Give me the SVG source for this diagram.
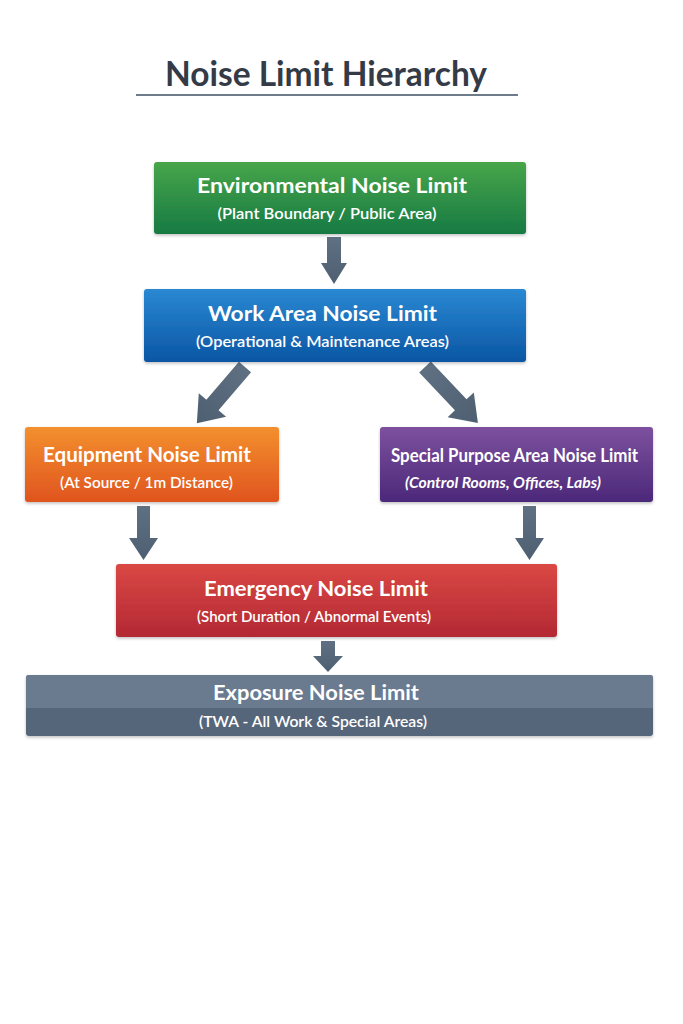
<svg xmlns="http://www.w3.org/2000/svg" width="683" height="1024" viewBox="0 0 683 1024">
<defs>
<linearGradient id="gGreen" x1="0" y1="0" x2="0" y2="1"><stop offset="0" stop-color="#47a549"/><stop offset="1" stop-color="#177a43"/></linearGradient>
<linearGradient id="gBlue" x1="0" y1="0" x2="0" y2="1"><stop offset="0" stop-color="#2a88d2"/><stop offset="1" stop-color="#0a56a4"/></linearGradient>
<linearGradient id="gOrange" x1="0" y1="0" x2="0" y2="1"><stop offset="0" stop-color="#f3902e"/><stop offset="1" stop-color="#e0541e"/></linearGradient>
<linearGradient id="gPurple" x1="0" y1="0" x2="0" y2="1"><stop offset="0" stop-color="#7d519f"/><stop offset="1" stop-color="#4b2879"/></linearGradient>
<linearGradient id="gRed" x1="0" y1="0" x2="0" y2="1"><stop offset="0" stop-color="#da4844"/><stop offset="1" stop-color="#b32834"/></linearGradient>
<linearGradient id="gArrow" x1="0" y1="0" x2="0" y2="1"><stop offset="0" stop-color="#5f7083"/><stop offset="1" stop-color="#4e5f72"/></linearGradient>
<filter id="sh" x="-5%" y="-10%" width="110%" height="130%"><feDropShadow dx="0" dy="1.5" stdDeviation="1.5" flood-color="#000" flood-opacity="0.25"/></filter>
</defs>
<style>
.t{font-family:Lato,"Open Sans","Liberation Sans",sans-serif;font-weight:700;fill:#fff;text-anchor:middle;font-size:21px}
.s{font-family:Lato,"Open Sans","Liberation Sans",sans-serif;font-weight:600;fill:#fff;text-anchor:middle;font-size:15.5px}
.arrow{fill:url(#gArrow)}
</style>
<rect width="683" height="1024" fill="#ffffff"/>
<g id="title">
<text x="326" y="86" font-family="Lato,'Open Sans','Liberation Sans',sans-serif" font-weight="700" font-size="34" fill="#343b47" text-anchor="middle" textLength="322" lengthAdjust="spacingAndGlyphs">Noise Limit Hierarchy</text>
<line x1="136" y1="95" x2="518" y2="95" stroke="#6d7b8a" stroke-width="2"/>
</g>
<g id="connectors">
<path class="arrow" d="M327,237 H341 V263 H347 L334,284 L321,263 H327 Z"/>
<path class="arrow" transform="translate(245,367) rotate(40.6)" d="M-8,0 H8 V50 H18 L0,74 L-18,50 H-8 Z"/>
<path class="arrow" transform="translate(425,367) rotate(-43.4)" d="M-8,0 H8 V52 H18 L0,77 L-18,52 H-8 Z"/>
<path class="arrow" d="M137,506 H150 V538 H158 L143.5,560 L129,538 H137 Z"/>
<path class="arrow" d="M523,506 H536 V538 H544 L529.5,560 L515,538 H523 Z"/>
<path class="arrow" d="M321,641 H335 V656 H343 L328,672 L313,656 H321 Z"/>
</g>
<g id="environmental">
<rect x="154" y="162" width="372" height="72" rx="3" fill="url(#gGreen)" filter="url(#sh)"/>
<text class="t" x="332" y="193" textLength="270" lengthAdjust="spacingAndGlyphs">Environmental Noise Limit</text>
<text class="s" x="327" y="219" textLength="219" lengthAdjust="spacingAndGlyphs">(Plant Boundary / Public Area)</text>
</g>
<g id="workarea">
<rect x="144" y="289" width="382" height="73" rx="3" fill="url(#gBlue)" filter="url(#sh)"/>
<text class="t" x="322.5" y="321" textLength="229" lengthAdjust="spacingAndGlyphs">Work Area Noise Limit</text>
<text class="s" x="322.5" y="347" textLength="253" lengthAdjust="spacingAndGlyphs">(Operational &amp; Maintenance Areas)</text>
</g>
<g id="equipment">
<rect x="25" y="427" width="254" height="75" rx="3" fill="url(#gOrange)" filter="url(#sh)"/>
<text class="t" x="147" y="462" textLength="208" lengthAdjust="spacingAndGlyphs">Equipment Noise Limit</text>
<text class="s" x="146.5" y="488" textLength="173" lengthAdjust="spacingAndGlyphs">(At Source / 1m Distance)</text>
</g>
<g id="special">
<rect x="380" y="427" width="273" height="75" rx="3" fill="url(#gPurple)" filter="url(#sh)"/>
<text class="t" x="514.5" y="462" style="font-size:19px" textLength="247" lengthAdjust="spacingAndGlyphs">Special Purpose Area Noise Limit</text>
<text class="s" x="503" y="488" style="font-style:italic;font-weight:700;font-size:15px" textLength="196" lengthAdjust="spacingAndGlyphs">(Control Rooms, Offices, Labs)</text>
</g>
<g id="emergency">
<rect x="116" y="564" width="441" height="73" rx="3" fill="url(#gRed)" filter="url(#sh)"/>
<text class="t" x="316" y="596" textLength="224" lengthAdjust="spacingAndGlyphs">Emergency Noise Limit</text>
<text class="s" x="314" y="622" textLength="234" lengthAdjust="spacingAndGlyphs">(Short Duration / Abnormal Events)</text>
</g>
<g id="exposure">
<rect x="26" y="675" width="627" height="61" rx="3" fill="#56667a" filter="url(#sh)"/>
<path d="M26,708 V678 a3,3 0 0 1 3,-3 H650 a3,3 0 0 1 3,3 V708 Z" fill="#6a7a8f"/>
<text class="t" x="316" y="700" textLength="206" lengthAdjust="spacingAndGlyphs">Exposure Noise Limit</text>
<text class="s" x="313" y="727" textLength="228" lengthAdjust="spacingAndGlyphs">(TWA - All Work &amp; Special Areas)</text>
</g>
</svg>
